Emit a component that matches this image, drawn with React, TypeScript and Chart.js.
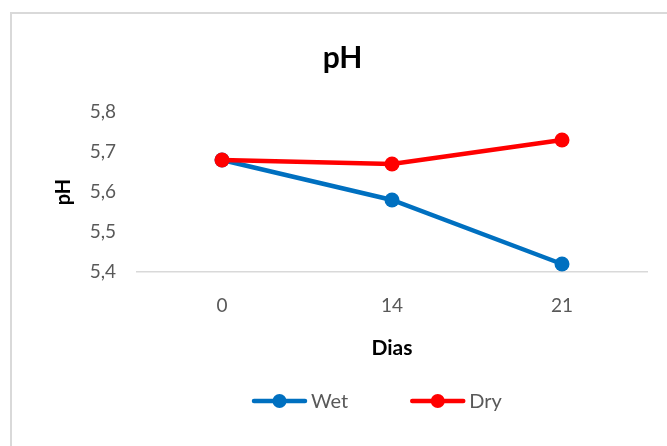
import React, { useEffect, useRef } from "react";
import { Chart, registerables } from "chart.js";

Chart.register(...registerables);

const categories = ["0", "14", "21"];
const wetValues = [5.68, 5.58, 5.42];
const dryValues = [5.68, 5.67, 5.73];
const yTicks = [5.4, 5.5, 5.6, 5.7, 5.8];
const seriesNames = ["Wet", "Dry"];

const WET = "#0070C0";
const DRY = "#FF0000";
const FONT = "Lato, 'Open Sans', sans-serif";

const borderPlugin = {
  id: "outerBorder",
  beforeDraw(chart: any) {
    const ctx = chart.ctx;
    ctx.save();
    ctx.fillStyle = "#ffffff";
    ctx.fillRect(0, 0, chart.width, chart.height);
    ctx.strokeStyle = "#d9d9d9";
    ctx.lineWidth = 2;
    ctx.beginPath();
    ctx.moveTo(11, chart.height);
    ctx.lineTo(11, 13);
    ctx.lineTo(chart.width, 13);
    ctx.stroke();
    ctx.restore();
  },
};

// Excel-style legend: line with a dot, then label
const lineLegendPlugin = {
  id: "lineLegend",
  afterDraw(chart: any) {
    const ctx = chart.ctx;
    const y = 401;
    const markerLen = 55;
    const textGap = 4;
    const itemGap = 62;
    let x = 252;
    ctx.save();
    ctx.font = `20px ${FONT}`;
    ctx.textBaseline = "middle";
    ctx.textAlign = "left";
    chart.data.datasets.forEach((ds: any) => {
      const color = ds.borderColor;
      ctx.strokeStyle = color;
      ctx.lineWidth = 4.5;
      ctx.lineCap = "round";
      ctx.beginPath();
      ctx.moveTo(x + 2, y);
      ctx.lineTo(x + markerLen - 2, y);
      ctx.stroke();
      ctx.fillStyle = color;
      ctx.beginPath();
      ctx.arc(x + markerLen / 2, y, 7, 0, Math.PI * 2);
      ctx.fill();
      ctx.fillStyle = "#595959";
      const tx = x + markerLen + textGap;
      ctx.fillText(ds.label, tx, y + 1);
      x = tx + ctx.measureText(ds.label).width + itemGap;
    });
    ctx.restore();
  },
};

export default function App() {
  const ref = useRef<HTMLCanvasElement | null>(null);

  useEffect(() => {
    if (!ref.current) return;
    const chart = new Chart(ref.current, {
      type: "line",
      data: {
        labels: categories,
        datasets: [
          {
            label: seriesNames[0],
            data: wetValues,
            borderColor: WET,
            backgroundColor: WET,
            borderWidth: 4.5,
            pointRadius: 7.5,
            pointHoverRadius: 7.5,
            pointBorderWidth: 0,
            tension: 0,
            order: 2,
          },
          {
            label: seriesNames[1],
            data: dryValues,
            borderColor: DRY,
            backgroundColor: DRY,
            borderWidth: 4.5,
            pointRadius: 7.5,
            pointHoverRadius: 7.5,
            pointBorderWidth: 0,
            tension: 0,
            order: 1,
          },
        ],
      },
      options: {
        animation: false,
        responsive: false,
        maintainAspectRatio: false,
        layout: { padding: { top: 0, left: 38, right: 20, bottom: 60 } },
        plugins: {
          title: {
            display: true,
            text: "pH",
            color: "#000000",
            font: { family: FONT, size: 30, weight: "bold", lineHeight: 1.2 },
            padding: { top: 40, bottom: 36 },
          },
          legend: { display: false },
          tooltip: { enabled: false },
        },
        scales: {
          x: {
            offset: true,
            grid: { display: false, drawTicks: false },
            border: { display: true, color: "#d9d9d9", width: 1.5 },
            ticks: {
              color: "#595959",
              padding: 22,
              font: { family: FONT, size: 19 },
            },
            title: {
              display: true,
              text: "Dias",
              color: "#000000",
              font: { family: FONT, size: 21, weight: "bold", lineHeight: 1.2 },
              padding: { top: 10, bottom: 25 },
            },
            afterFit: (scale: any) => {
              scale.height = 114;
            },
          },
          y: {
            min: 5.4,
            max: 5.8,
            afterBuildTicks: (axis: any) => {
              axis.ticks = yTicks.map((v) => ({ value: v }));
            },
            grid: { display: false, drawTicks: false },
            border: { display: false },
            ticks: {
              color: "#595959",
              padding: 21,
              font: { family: FONT, size: 19 },
              callback: (v: any) => Number(v).toFixed(1).replace(".", ","),
            },
            title: {
              display: true,
              text: "pH",
              color: "#000000",
              font: { family: FONT, size: 20, weight: "bold", lineHeight: 1.2 },
              padding: { top: 13.5, bottom: 0 },
            },
            afterFit: (scale: any) => {
              scale.width = 99;
            },
          },
        },
      },
      plugins: [borderPlugin, lineLegendPlugin],
    });
    return () => chart.destroy();
  }, []);

  return (
    <div style={{ position: "fixed", left: 0, top: 0, width: 667, height: 446, background: "#fff" }}>
      <canvas ref={ref} width={667} height={446} style={{ display: "block", width: 667, height: 446 }} />
    </div>
  );
}
